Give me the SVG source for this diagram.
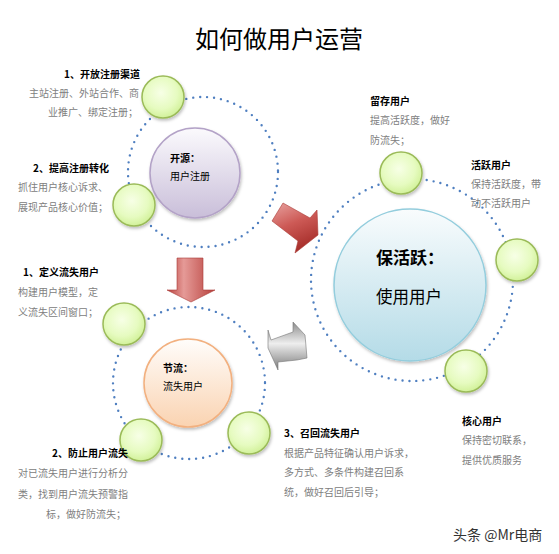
<svg xmlns="http://www.w3.org/2000/svg" width="559" height="554" viewBox="0 0 559 554">
<defs>
<radialGradient id="gGreen" cx="0.45" cy="0.4" r="0.65">
<stop offset="0" stop-color="#f7ffe6"/>
<stop offset="0.6" stop-color="#e6fbc0"/>
<stop offset="1" stop-color="#cdef91"/>
</radialGradient>
<linearGradient id="gPurple" x1="0" y1="0" x2="0" y2="1">
<stop offset="0" stop-color="#fbfafd"/>
<stop offset="1" stop-color="#c9bed9"/>
</linearGradient>
<linearGradient id="gOrange" x1="0" y1="0" x2="0" y2="1">
<stop offset="0" stop-color="#fffdfb"/>
<stop offset="1" stop-color="#fad3b1"/>
</linearGradient>
<linearGradient id="gBlue" x1="0" y1="0" x2="0" y2="1">
<stop offset="0" stop-color="#f9fcfd"/>
<stop offset="1" stop-color="#b4dbe7"/>
</linearGradient>
<linearGradient id="gRedDown" x1="0" y1="0" x2="1" y2="0">
<stop offset="0" stop-color="#b9403c"/>
<stop offset="0.35" stop-color="#e59a97"/>
<stop offset="1" stop-color="#b8413d"/>
</linearGradient>
<linearGradient id="gRedDiag" x1="0" y1="0" x2="0.4" y2="1">
<stop offset="0" stop-color="#e8a3a0"/>
<stop offset="0.5" stop-color="#cd5a56"/>
<stop offset="1" stop-color="#a8302c"/>
</linearGradient>
<linearGradient id="gGray" x1="0" y1="0" x2="0" y2="1">
<stop offset="0" stop-color="#8c8c8c"/>
<stop offset="0.45" stop-color="#eeeeee"/>
<stop offset="1" stop-color="#7a7a7a"/>
</linearGradient>
<filter id="sh" x="-20%" y="-20%" width="150%" height="150%">
<feDropShadow dx="1" dy="2" stdDeviation="1.5" flood-color="#000" flood-opacity="0.25"/>
</filter>
</defs>
<style>
.t{font-family:"Noto Sans CJK SC","Liberation Sans",sans-serif}
.h{font-size:10px;font-weight:bold;fill:#000}
.g{font-size:10px;fill:#808080}
.dot{fill:none;stroke:#4f7fc0;stroke-width:2.4;stroke-linecap:round;stroke-dasharray:0 7}
.gc{fill:url(#gGreen);stroke:#9bbb59;stroke-width:1.5;filter:url(#sh)}
</style>
<rect width="559" height="554" fill="#fff"/>
<text class="t" x="279" y="48" font-size="24" text-anchor="middle" fill="#000">如何做用户运营</text>

<g id="connectors">
<circle class="dot" cx="203" cy="172" r="75"/>
<circle class="dot" cx="189" cy="383" r="76"/>
<circle class="dot" cx="412" cy="280" r="101"/>
<polygon points="177,258 203,258 203,290 215,290 191,302 167,290 177,290" fill="url(#gRedDown)" stroke="#a93a36" stroke-width="0.6"/>
<polygon points="283,203 310,218 317,210 318,235 295,253 298,241 272,221" fill="url(#gRedDiag)" stroke="#a93a36" stroke-width="0.6"/>
<polygon points="268,330 271,340 293,332 293,322 305,335 307,358 297,360 278,362 278,370 268,348" fill="url(#gGray)" stroke="#777" stroke-width="0.6"/>
</g>

<g id="source">
<circle cx="195" cy="173" r="45" fill="url(#gPurple)" stroke="#b3a2c7" stroke-width="1.5" filter="url(#sh)"/>
<text class="t h" x="170" y="162">开源：</text>
<text class="t" x="170" y="180" font-size="10" fill="#000">用户注册</text>
</g>
<g id="source-1">
<circle class="gc" cx="163" cy="97" r="21"/>
<text class="t h" x="140" y="78" text-anchor="end">1、开放注册渠道</text>
<text class="t g" x="139" y="97" text-anchor="end">主站注册、外站合作、商</text>
<text class="t g" x="138" y="116" text-anchor="end">业推广、绑定注册；</text>
</g>
<g id="source-2">
<circle class="gc" cx="134" cy="205" r="21"/>
<text class="t h" x="33" y="172">2、提高注册转化</text>
<text class="t g" x="18" y="191">抓住用户核心诉求、</text>
<text class="t g" x="18" y="211">展现产品核心价值；</text>
</g>

<g id="throttle">
<circle cx="188" cy="383" r="44" fill="url(#gOrange)" stroke="#f2b07f" stroke-width="1.5" filter="url(#sh)"/>
<text class="t h" x="163" y="372">节流：</text>
<text class="t" x="163" y="390" font-size="10" fill="#000">流失用户</text>
</g>
<g id="throttle-1">
<circle class="gc" cx="124" cy="324" r="21"/>
<text class="t h" x="23" y="276">1、定义流失用户</text>
<text class="t g" x="18" y="296">构建用户模型，定</text>
<text class="t g" x="18" y="316">义流失区间窗口；</text>
</g>
<g id="throttle-2">
<circle class="gc" cx="141" cy="440" r="21"/>
<text class="t h" x="128" y="457" text-anchor="end">2、防止用户流失</text>
<text class="t g" x="18" y="477">对已流失用户进行分析分</text>
<text class="t g" x="18" y="498">类，找到用户流失预警指</text>
<text class="t g" x="126" y="518" text-anchor="end">标，做好防流失；</text>
</g>
<g id="throttle-3">
<circle class="gc" cx="249" cy="433" r="21"/>
<text class="t h" x="284" y="437">3、召回流失用户</text>
<text class="t g" x="284" y="457">根据产品特征确认用户诉求，</text>
<text class="t g" x="284" y="476">多方式、多条件构建召回系</text>
<text class="t g" x="284" y="496">统，做好召回后引导；</text>
</g>

<g id="active">
<circle cx="410" cy="285" r="76" fill="url(#gBlue)" stroke="#93cddd" stroke-width="1.5" filter="url(#sh)"/>
<text class="t" x="376" y="264" font-size="17" font-weight="bold" fill="#000">保活跃：</text>
<text class="t" x="376" y="303" font-size="16.5" fill="#000">使用用户</text>
</g>
<g id="active-retain">
<circle class="gc" cx="401" cy="173" r="21"/>
<text class="t h" x="370" y="105">留存用户</text>
<text class="t g" x="370" y="124">提高活跃度，做好</text>
<text class="t g" x="370" y="144">防流失；</text>
</g>
<g id="active-users">
<circle class="gc" cx="517" cy="260" r="21"/>
<text class="t h" x="471" y="169">活跃用户</text>
<text class="t g" x="471" y="188">保持活跃度，带</text>
<text class="t g" x="471" y="207">动不活跃用户</text>
</g>
<g id="active-core">
<circle class="gc" cx="466" cy="371" r="21"/>
<text class="t h" x="462" y="425">核心用户</text>
<text class="t g" x="462" y="444">保持密切联系，</text>
<text class="t g" x="462" y="464">提供优质服务</text>
</g>

<text class="t" x="453" y="540" font-size="14" fill="#333">头条 @Mr电商</text>
</svg>
